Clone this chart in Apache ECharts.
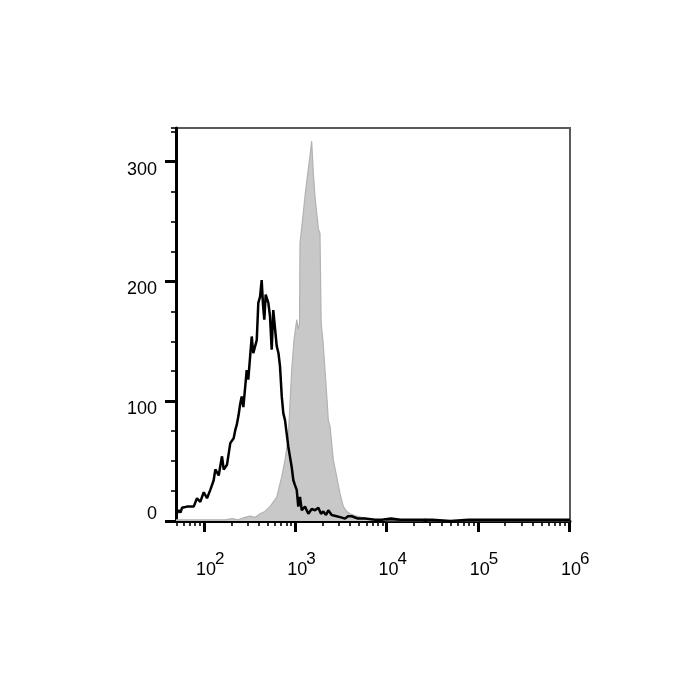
<!DOCTYPE html>
<html>
<head>
<meta charset="utf-8">
<script src="https://cdn.jsdelivr.net/npm/echarts@6/dist/echarts.min.js"></script>
<style>
html,body{margin:0;padding:0;background:#fff;}
#chart{width:700px;height:700px;}
</style>
</head>
<body>
<div id="chart"></div>
<script>
// x values are log10(fluorescence intensity); y values are event counts
const blackLog = [1.693,1.723,1.742,1.759,1.814,1.887,1.923,1.959,1.997,2.033,2.069,2.106,2.124,2.161,2.197,2.216,2.252,2.288,2.325,2.343,2.358,2.378,2.395,2.413,2.431,2.468,2.485,2.523,2.540,2.578,2.595,2.614,2.632,2.647,2.661,2.676,2.705,2.723,2.742,2.759,2.797,2.816,2.833,2.852,2.869,2.888,2.924,2.961,2.979,2.997,3.016,3.033,3.052,3.071,3.107,3.143,3.180,3.216,3.253,3.282,3.307,3.337,3.362,3.399,3.454,3.501,3.545,3.578,3.619,3.688,3.764,3.874,3.95,4.05,4.15,4.30,4.50,4.70,4.90,5.10,5.30,5.50,5.70,5.90,6.011];
const blackCount = [5,9,7,11,12,12,19,16,24,19,26,34,43,38,54,43,47,65,69,76,80,88,97,104,95,126,118,154,140,151,182,187,201,180,168,189,182,171,143,176,146,140,129,104,90,84,62,45,34,30,26,12,20,9,12,6,10,9,11,6,8,5,9,5,4,3,2,4,4,2,2,1,1,2,1,1,1,0,1,1,1,1,1,1,1];

const grayLog = [1.693,1.90,2.10,2.230,2.307,2.373,2.449,2.504,2.559,2.614,2.668,2.723,2.797,2.852,2.888,2.924,2.942,2.961,2.986,3.016,3.033,3.047,3.052,3.071,3.085,3.112,3.140,3.162,3.180,3.198,3.216,3.235,3.253,3.271,3.284,3.304,3.326,3.351,3.362,3.381,3.417,3.454,3.490,3.527,3.564,3.600,3.673,3.783,3.874,3.95,4.00,4.40,4.42,4.45,6.011];
const grayCount = [1,1,1,1,2,1,3,4,3,6,8,12,20,37,51,70,98,126,151,168,160,165,232,232,255,275,292,305,317,290,271,257,244,240,165,150,126,98,84,79,51,37,23,12,8,6,4,2,1,1,0,0,2,0,0];

const yMajor = [0,100,200,300];
const yLabelValues = [100,200,300];
const yZeroLabel = [0];
const xDecades = [2,3,4,5,6];
const xLabelBase = '10';
const xMinorMultipliers = [2,3,4,5,6,7,8,9];

const X_MIN = 1.693, X_MAX = 6.011, Y_MAX = 328;
const FONT = 'Liberation Sans, Arial, sans-serif';

const xMinorTicks = [];
[1,2,3,4,5].forEach(d => xMinorMultipliers.forEach(m => {
  const v = Math.log10(m) + d;
  if (v >= X_MIN && v <= X_MAX) xMinorTicks.push(v);
}));

const chart = echarts.init(document.getElementById('chart'));
const grid = {left:176, right:130, top:128, bottom:179, show:true, borderColor:'#5a5a5a', borderWidth:2, backgroundColor:'transparent'};

const baseX = {type:'value', min:X_MIN, max:X_MAX, position:'bottom', splitLine:{show:false}};
const baseY = {type:'value', min:0, max:Y_MAX, position:'left', splitLine:{show:false}};

chart.setOption({
  animation:false,
  backgroundColor:'#fff',
  grid: grid,
  xAxis: [
    Object.assign({}, baseX, {
      axisLine:{show:true, lineStyle:{color:'#000', width:3}},
      axisTick:{show:true, customValues:xMinorTicks, length:5, lineStyle:{color:'#000', width:1.6}},
      axisLabel:{show:false}
    }),
    Object.assign({}, baseX, {
      axisLine:{show:false},
      axisTick:{show:true, customValues:xDecades, length:11, lineStyle:{color:'#000', width:3}},
      axisLabel:{show:true, customValues:xDecades, margin:40, fontSize:18, lineHeight:18, fontFamily:FONT, color:'#000',
        verticalAlign:'top', align:'center', padding:[0,0,0,4],
        formatter: () => xLabelBase}
    }),
    Object.assign({}, baseX, {
      axisLine:{show:false},
      axisTick:{show:false},
      axisLabel:{show:true, customValues:xDecades, margin:30, fontSize:17, lineHeight:17, fontFamily:FONT, color:'#000',
        verticalAlign:'top', align:'left', padding:[0,0,0,11],
        formatter: v => String(Math.round(v))}
    })
  ],
  yAxis: [
    Object.assign({}, baseY, {
      interval:25,
      axisLine:{show:true, lineStyle:{color:'#000', width:3}},
      axisTick:{show:true, length:5, lineStyle:{color:'#000', width:1.6}},
      axisLabel:{show:false}
    }),
    Object.assign({}, baseY, {
      axisLine:{show:false},
      axisTick:{show:true, customValues:yMajor, length:11, lineStyle:{color:'#000', width:3}},
      axisLabel:{show:true, customValues:yLabelValues, margin:19, fontSize:18, fontFamily:FONT, color:'#000', verticalAlign:'top', lineHeight:16}
    }),
    Object.assign({}, baseY, {
      axisLine:{show:false},
      axisTick:{show:false},
      axisLabel:{show:true, customValues:yZeroLabel, margin:19, fontSize:18, fontFamily:FONT, color:'#000', verticalAlign:'bottom', lineHeight:14}
    })
  ],
  series: [
    {
      type:'line', xAxisIndex:0, yAxisIndex:0, symbol:'none',
      data: grayLog.map((x,i) => [x, grayCount[i]]),
      lineStyle:{color:'#b2b2b2', width:1.2},
      areaStyle:{color:'#c8c8c8', opacity:1},
      z:2
    },
    {
      type:'line', xAxisIndex:0, yAxisIndex:0, symbol:'none',
      data: blackLog.map((x,i) => [x, blackCount[i]]),
      lineStyle:{color:'#000', width:2.5},
      z:3
    }
  ]
});
</script>
</body>
</html>
